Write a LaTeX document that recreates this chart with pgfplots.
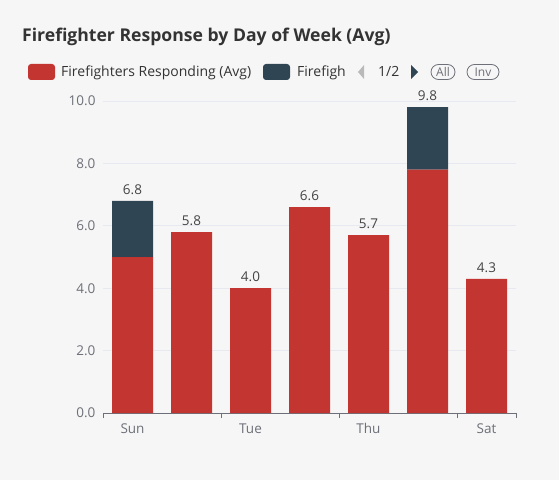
\documentclass[border=0pt]{standalone}
\usepackage{pgfplots}
\pgfplotsset{compat=1.18}
\usepackage{fontspec}
\setmainfont{Open Sans}

\definecolor{bgcard}{HTML}{F6F6F6}
\definecolor{ffred}{HTML}{C23531}
\definecolor{ffnavy}{HTML}{2F4554}
\definecolor{axisgrey}{HTML}{6E7079}
\definecolor{gridgrey}{HTML}{E6E9EF}
\definecolor{titlegrey}{HTML}{333333}
\definecolor{labelgrey}{HTML}{444444}

% shared geometry of the plot area
\pgfplotsset{plotarea/.style={
  at={(103pt,70pt)}, anchor=south west,
  scale only axis, width=413pt, height=312pt,
  xmin=-0.5, xmax=6.5, ymin=0, ymax=10, clip=false}}

\begin{document}
\begin{tikzpicture}[x=1pt,y=1pt]
% card background
\fill[white] (0,0) rectangle (559,483);
\fill[bgcard] (0,3) rectangle (559,483);

% title
\node[anchor=base west, inner sep=0pt, font=\bfseries\fontsize{17.6}{20}\selectfont, text=titlegrey]
  at (22,441) {Firefighter Response by Day of Week (Avg)};

% legend (scrolling legend with paging controls)
\fill[ffred, rounded corners=3pt] (28,403) rectangle (55,419);
\node[anchor=base west, inner sep=0pt, font=\fontsize{14}{16}\selectfont, text=titlegrey]
  at (61,406) {Firefighters Responding (Avg)};
\fill[ffnavy, rounded corners=3pt] (263,403) rectangle (290,419);
\node[anchor=base west, inner sep=0pt, font=\fontsize{14}{16}\selectfont, text=titlegrey]
  at (297,406) {Firefigh};
\fill[gray!55] (358,411) -- (364,418) -- (364,404) -- cycle;
\node[anchor=base west, inner sep=0pt, font=\fontsize{14}{16}\selectfont, text=titlegrey]
  at (378,406) {1/2};
\fill[ffnavy] (411,404) -- (411,418) -- (418,411) -- cycle;
\draw[axisgrey, line width=0.8pt, rounded corners=7.5pt] (431,403.5) rectangle (455,418.5);
\node[font=\fontsize{12}{14}\selectfont, text=axisgrey, inner sep=0pt] at (443,411) {All};
\draw[axisgrey, line width=0.8pt, rounded corners=7.5pt] (467,403.5) rectangle (499,418.5);
\node[font=\fontsize{12}{14}\selectfont, text=axisgrey, inner sep=0pt] at (483,411) {Inv};

\begin{axis}[
  plotarea,
  ybar stacked, bar width=41pt,
  ytick={0,2,4,6,8,10},
  yticklabel style={xshift=-4pt,
    /pgf/number format/fixed, /pgf/number format/fixed zerofill,
    /pgf/number format/precision=1},
  /pgf/number format/assume math mode=true,
  ymajorgrids, grid style={gridgrey, line width=0.8pt},
  axis x line*=bottom, axis y line*=left,
  x axis line style={axisgrey, line width=0.8pt},
  y axis line style={draw=none},
  major y tick style={draw=none},
  xtick={-0.5,1.5,3.5,5.5,6.5}, xticklabels={},
  major x tick style={axisgrey, line width=0.8pt},
  major tick length=5pt, xtick align=outside,
  extra x ticks={0,2,4,6},
  extra x tick labels={Sun,Tue,Thu,Sat},
  extra x tick style={major tick length=0pt, grid=none},
  ticklabel style={font=\fontsize{13.5}{15}\selectfont, text=axisgrey},
  xticklabel style={yshift=-7pt},
]
% red segment: firefighters responding (avg)
\addplot[fill=ffred, draw=none] coordinates {
  (0,5.0) (1,5.8) (2,4.0) (3,6.6) (4,5.7) (5,7.8) (6,4.3)};
% navy segment stacked on top
\addplot[fill=ffnavy, draw=none] coordinates {
  (0,1.8) (1,0) (2,0) (3,0) (4,0) (5,2.0) (6,0)};
\end{axis}

% bar totals, written above each stack
\begin{axis}[plotarea, hide axis]
\addplot[draw=none, mark=none,
  nodes near coords={\pgfmathprintnumber[fixed,fixed zerofill,precision=1,assume math mode=true]{\pgfplotspointmeta}},
  point meta=y,
  every node near coord/.append style={font=\fontsize{13.5}{15}\selectfont, text=labelgrey, anchor=south, yshift=3pt}]
  coordinates {
  (0,6.8) (1,5.8) (2,4.0) (3,6.6) (4,5.7) (5,9.8) (6,4.3)};
\end{axis}
\end{tikzpicture}
\end{document}
